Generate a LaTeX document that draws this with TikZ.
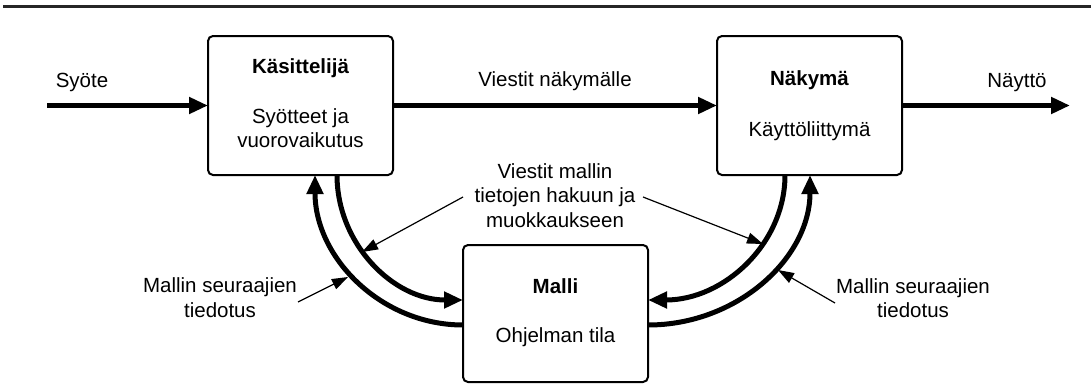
\documentclass[tikz,border=0pt]{standalone}
\usepackage{fontspec}
\setmainfont{Liberation Sans}
\usetikzlibrary{arrows.meta}
\begin{document}
\begin{tikzpicture}[x=1pt,y=-1pt,
  box/.style={draw,line width=2pt,rounded corners=5pt,minimum width=185pt,minimum height=139pt,inner sep=0pt,outer sep=0pt},
  lbl/.style={font=\fontsize{20.5}{24.5}\selectfont,anchor=base,inner sep=0pt},
  title/.style={lbl,font=\fontsize{20.5}{24.5}\selectfont\bfseries},
  flow/.style={line width=5pt,-{Triangle[length=19pt,width=16pt]}},
  note/.style={line width=1.2pt,-{Triangle[length=16pt,width=11pt]}},
  rulebar/.style={line width=2.5pt,black!85}
]
\useasboundingbox (0,0) rectangle (1091,383);
\coordinate (rl) at (3,6.5);
\coordinate (rr) at (1091,6.5);
\draw[rulebar] (rl) -- (rr);

% boxes
\node[box] (kas) at (300.5,105.5) {};
\node[box] (nak) at (809.5,105.5) {};
\node[box,minimum height=137pt] (mal) at (555.5,313.5) {};

% box texts
\node[title] (kasT) at (300.5,73) {Käsittelijä};
\node[lbl] (kasA) at (300.5,123) {Syötteet ja};
\node[lbl] (kasB) at (300.5,147) {vuorovaikutus};
\node[title] (nakT) at (809.5,85) {Näkymä};
\node[lbl] (nakA) at (809.5,136) {Käyttöliittymä};
\node[title] (malT) at (555.5,293) {Malli};
\node[lbl] (malA) at (555.5,342) {Ohjelman tila};

% other labels
\node[lbl] (syo) at (82,87) {Syöte};
\node[lbl] (vn) at (555,86) {Viestit näkymälle};
\node[lbl] (nay) at (1017,87) {Näyttö};
\node[lbl] (vm1) at (555,178) {Viestit mallin};
\node[lbl] (vm2) at (555,202) {tietojen hakuun ja};
\node[lbl] (vm3) at (555,227) {muokkaukseen};
\node[lbl] (ms1) at (220,292) {Mallin seuraajien};
\node[lbl] (ms2) at (220,317) {tiedotus};
\node[lbl] (ms3) at (913,293) {Mallin seuraajien};
\node[lbl] (ms4) at (913,317) {tiedotus};

% main flow
\coordinate (in) at (47,105.5);
\coordinate (out) at (1070,105.5);
\draw[flow] (in) -- (kas.west);
\draw[flow] (kas.east) -- (nak.west);
\draw[flow] (nak.east) -- (out);

% curved arrows
\draw[flow] ([yshift=-11.5pt]mal.west) .. controls +(-81.7,0) and +(0,82.8) .. ([xshift=14.5pt]kas.south);
\draw[flow] ([xshift=36.5pt]kas.south) .. controls +(0,69) and +(-69.6,0) .. ([yshift=13.5pt]mal.west);
\draw[flow] ([xshift=-24.5pt]nak.south) .. controls +(0,69) and +(75.7,0) .. ([yshift=13.5pt]mal.east);
\draw[flow] ([yshift=-11.5pt]mal.east) .. controls +(89.5,0) and +(0,82.8) .. ([xshift=0.5pt]nak.south);

% annotation arrows
\coordinate (n1s) at (463,197);
\coordinate (n1e) at (362,252);
\coordinate (n2s) at (643,197);
\coordinate (n2e) at (763,244);
\coordinate (n3s) at (298,302);
\coordinate (n3e) at (348,277);
\coordinate (n4s) at (835,303);
\coordinate (n4e) at (778,270);
\draw[note] (n1s) -- (n1e);
\draw[note] (n2s) -- (n2e);
\draw[note] (n3s) -- (n3e);
\draw[note] (n4s) -- (n4e);
\end{tikzpicture}
\end{document}
